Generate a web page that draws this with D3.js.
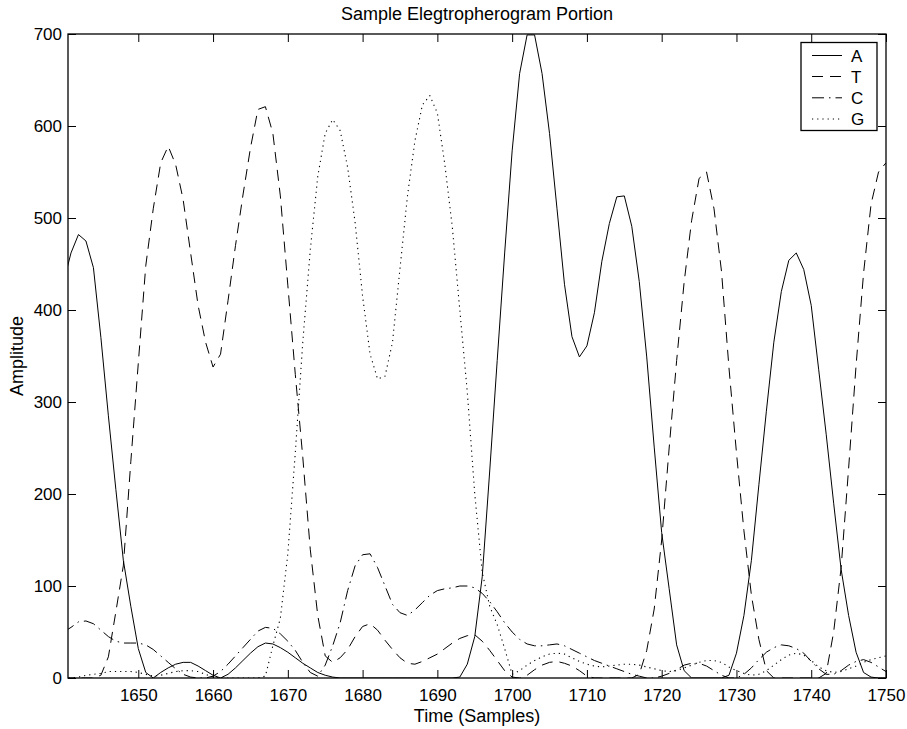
<!DOCTYPE html>
<html>
<head>
<meta charset="utf-8">
<script src="https://cdn.jsdelivr.net/npm/d3@7"></script>
<style>
  html, body { margin: 0; padding: 0; background: #fff; }
  svg { display: block; }
  text { font-family: "Liberation Sans", Arial, Helvetica, sans-serif; fill: #000; }
</style>
</head>
<body>
<svg id="chart" width="907" height="729"></svg>
<script>
// ---------------- data ----------------
const title = "Sample Elegtropherogram Portion";
const xLabel = "Time (Samples)";
const yLabel = "Amplitude";
const seriesNames = ["A", "T", "C", "G"];
const xTicks = [1650, 1660, 1670, 1680, 1690, 1700, 1710, 1720, 1730, 1740, 1750];
const yTicks = [0, 100, 200, 300, 400, 500, 600, 700];
const xLimits = [1640.6, 1750];
const yLimits = [0, 700];

const samples = [
  1640,1641,1642,1643,1644,1645,1646,1647,1648,1649,
  1650,1651,1652,1653,1654,1655,1656,1657,1658,1659,
  1660,1661,1662,1663,1664,1665,1666,1667,1668,1669,
  1670,1671,1672,1673,1674,1675,1676,1677,1678,1679,
  1680,1681,1682,1683,1684,1685,1686,1687,1688,1689,
  1690,1691,1692,1693,1694,1695,1696,1697,1698,1699,
  1700,1701,1702,1703,1704,1705,1706,1707,1708,1709,
  1710,1711,1712,1713,1714,1715,1716,1717,1718,1719,
  1720,1721,1722,1723,1724,1725,1726,1727,1728,1729,
  1730,1731,1732,1733,1734,1735,1736,1737,1738,1739,
  1740,1741,1742,1743,1744,1745,1746,1747,1748,1749,
  1750
];

const seriesA = [
  430,462,482,475,446,370,285,205,128,78,
  32,6,0,6,11,15,17,17,13,8,
  3,0,4,11,19,27,34,38,37,33,
  28,22,16,11,6,3,1,0,0,0,
  0,0,0,0,0,0,0,0,0,0,
  0,0,0,1,15,45,110,225,345,462,
  573,657,699,699,657,592,510,428,371,349,
  361,397,453,494,523,524,491,431,349,251,
  158,97,36,8,0,0,0,0,0,3,
  27,68,128,210,290,365,420,454,462,444,
  405,335,265,190,118,68,28,6,1,0,
  0
];

const seriesT = [
  0,0,0,0,0,3,23,72,122,235,
  342,448,510,560,578,558,520,462,405,365,
  338,352,410,470,525,576,618,621,592,524,
  427,330,240,140,68,24,17,22,31,45,
  56,59,52,41,31,22,16,15,18,22,
  26,32,38,43,46,47,40,30,19,8,
  1,0,3,9,14,17,18,16,13,8,
  2,0,0,0,0,0,0,4,30,75,
  150,250,345,430,497,543,550,510,442,337,
  245,160,90,42,8,0,0,0,0,0,
  0,0,5,50,120,228,340,440,515,550,
  560
];

const seriesC = [
  50,55,61,62,59,52,45,40,38,38,
  38,36,31,24,17,10,4,1,0,0,
  2,7,15,24,33,42,51,55,54,48,
  40,30,17,6,2,14,35,60,95,122,
  134,135,120,100,80,71,68,74,82,90,
  95,97,98,100,100,98,92,83,72,60,
  50,42,37,35,35,36,37,35,31,27,
  23,19,16,13,10,7,4,2,0,0,
  2,5,9,14,16,16,13,8,3,0,
  0,4,11,20,28,33,36,35,32,27,
  18,10,4,4,8,14,18,20,17,12,
  7
];

const seriesG = [
  0,0,1,3,4,5,7,7,7,7,
  6,4,2,3,5,7,8,8,7,4,
  1,0,0,0,0,0,0,2,35,65,
  135,245,365,465,545,592,607,595,555,495,
  415,352,325,328,365,445,524,584,623,633,
  614,558,490,400,311,200,115,78,58,32,
  4,8,14,19,23,26,27,26,22,18,
  15,13,12,13,14,15,15,14,12,10,
  8,7,8,11,14,17,19,19,17,12,
  8,5,3,4,8,14,20,25,27,25,
  19,12,8,6,7,10,13,17,20,22,
  24
];

const seriesValues = [seriesA, seriesT, seriesC, seriesG];
const dashStyles = [null, "11,7", "12,5,1.5,5", "1.2,4"];

// ---------------- layout ----------------
const W = 907, H = 729;
const plot = { left: 68, top: 34, right: 886, bottom: 678 };
const TICK_FONT = 17;
const LABEL_FONT = 18;

const svg = d3.select("#chart");

const x = d3.scaleLinear().domain(xLimits).range([plot.left, plot.right]);
const y = d3.scaleLinear().domain(yLimits).range([plot.bottom, plot.top]);

svg.append("rect").attr("x", 0).attr("y", 0).attr("width", W).attr("height", H).attr("fill", "#fff");

svg.append("defs").append("clipPath").attr("id", "plotclip")
  .append("rect")
  .attr("x", plot.left).attr("y", plot.top)
  .attr("width", plot.right - plot.left).attr("height", plot.bottom - plot.top);

// series lines
const line = d3.line()
  .x((d, i) => x(samples[i]))
  .y(d => y(d));

const linesG = svg.append("g").attr("clip-path", "url(#plotclip)");
seriesValues.forEach((vals, k) => {
  linesG.append("path")
    .datum(vals)
    .attr("d", line)
    .attr("fill", "none")
    .attr("stroke", "#000")
    .attr("stroke-width", k === 3 ? 1.1 : 1)
    .attr("stroke-dasharray", dashStyles[k])
    .attr("stroke-linejoin", "round");
});

// axes (MATLAB style: inward ticks on all four sides)
function styleAxis(g) {
  g.selectAll(".domain").remove();
  g.selectAll(".tick line").attr("stroke", "#000").attr("stroke-width", 1);
  g.selectAll(".tick text")
    .style("font-family", '"Liberation Sans", Arial, Helvetica, sans-serif')
    .style("font-size", TICK_FONT + "px")
    .attr("fill", "#000");
}

svg.append("g")
  .attr("transform", `translate(0,${plot.bottom})`)
  .call(d3.axisBottom(x).tickValues(xTicks).tickFormat(d3.format("d"))
    .tickSizeInner(-8).tickSizeOuter(0).tickPadding(11))
  .call(styleAxis);

svg.append("g")
  .attr("transform", `translate(0,${plot.top})`)
  .call(d3.axisTop(x).tickValues(xTicks).tickFormat("")
    .tickSizeInner(-8).tickSizeOuter(0))
  .call(styleAxis);

svg.append("g")
  .attr("transform", `translate(${plot.left},0)`)
  .call(d3.axisLeft(y).tickValues(yTicks).tickFormat(d3.format("d"))
    .tickSizeInner(-8).tickSizeOuter(0).tickPadding(6))
  .call(styleAxis);

svg.append("g")
  .attr("transform", `translate(${plot.right},0)`)
  .call(d3.axisRight(y).tickValues(yTicks).tickFormat("")
    .tickSizeInner(-8).tickSizeOuter(0))
  .call(styleAxis);

// box
svg.append("rect")
  .attr("x", plot.left).attr("y", plot.top)
  .attr("width", plot.right - plot.left).attr("height", plot.bottom - plot.top)
  .attr("fill", "none").attr("stroke", "#000").attr("stroke-width", 1.3);

// title and labels
const cx = (plot.left + plot.right) / 2;
svg.append("text")
  .attr("x", cx).attr("y", 19.5)
  .attr("text-anchor", "middle")
  .style("font-size", LABEL_FONT + "px")
  .text(title);

svg.append("text")
  .attr("x", cx).attr("y", 722)
  .attr("text-anchor", "middle")
  .style("font-size", LABEL_FONT + "px")
  .text(xLabel);

svg.append("text")
  .attr("transform", `translate(23,${(plot.top + plot.bottom) / 2}) rotate(-90)`)
  .attr("text-anchor", "middle")
  .style("font-size", LABEL_FONT + "px")
  .text(yLabel);

// legend
const legend = svg.append("g");
const lg = { x: 801, y: 42.5, w: 76, h: 88 };
legend.append("rect")
  .attr("x", lg.x).attr("y", lg.y).attr("width", lg.w).attr("height", lg.h)
  .attr("fill", "#fff").attr("stroke", "#000").attr("stroke-width", 1.3);
const rowY = [55.5, 76.5, 97.8, 119];
seriesNames.forEach((name, k) => {
  legend.append("line")
    .attr("x1", 812).attr("x2", 842)
    .attr("y1", rowY[k]).attr("y2", rowY[k])
    .attr("stroke", "#000").attr("stroke-width", 1)
    .attr("stroke-dasharray", dashStyles[k]);
  legend.append("text")
    .attr("x", 851).attr("y", rowY[k] + 6.2)
    .style("font-size", TICK_FONT + "px")
    .text(name);
});
</script>
</body>
</html>
